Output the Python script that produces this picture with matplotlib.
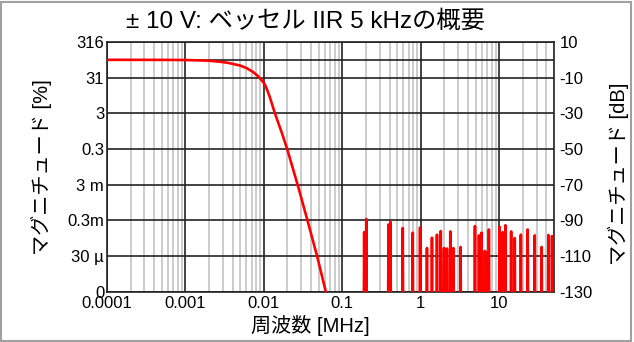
import matplotlib
matplotlib.use("Agg")
import matplotlib.pyplot as plt
from matplotlib.patches import Rectangle
from matplotlib.ticker import FixedLocator, LogLocator, NullFormatter

plt.rcParams["font.family"] = ["Liberation Sans", "Noto Sans CJK JP", "DejaVu Sans"]

# filter response (MHz, dB)
freq_mhz = [0.0001, 0.0005, 0.001, 0.002, 0.00276, 0.0035, 0.00496, 0.006, 0.00731,
            0.00835, 0.00935, 0.0103, 0.011, 0.0119, 0.0138, 0.0168, 0.0198,
            0.0273, 0.0359, 0.0476, 0.0615]
gain_db = [0.0, -0.03, -0.12, -0.5, -1.1, -1.7, -3.2, -4.6, -6.9,
           -9.0, -11.4, -13.8, -16.8, -20.9, -29.9, -40.5, -50.0,
           -71.0, -90.0, -110.0, -130.0]

# residual noise spikes (MHz, peak dB)
spike_mhz = [0.190, 0.202, 0.388, 0.411, 0.590, 0.791, 0.98, 1.20, 1.39, 1.61,
             1.80, 1.98, 2.16, 2.38, 2.60, 3.22, 4.91, 5.52, 5.96, 6.57, 6.84,
             7.39, 10.1, 11.1, 12.0, 14.2, 15.8, 18.9, 23.1, 28.4, 34.8, 42.4, 47.2]
spike_db = [-96.7, -89.3, -92.4, -90.9, -94.4, -97.0, -94.1, -105.6, -99.8, -98.1,
            -96.1, -105.6, -105.9, -96.3, -105.6, -105.0, -93.3, -98.5, -97.0, -107.2, -108.0,
            -95.2, -93.7, -96.7, -92.8, -96.3, -100.0, -98.1, -95.2, -98.5, -105.0, -98.3, -98.9]

db_ticks = [-130, -110, -90, -70, -50, -30, -10, 10]
pct_labels = ["0", "30 µ", "0.3m", "3 m", "0.3", "3", "31", "316"]
x_ticks = [0.0001, 0.001, 0.01, 0.1, 1, 10]
x_labels = ["0.0001", "0.001", "0.01", "0.1", "1", "10"]

FLOOR = -200.0
noise_x, noise_y = [], []
for f, p in zip(spike_mhz, spike_db):
    noise_x += [f * 0.975, f, f * 1.025]
    noise_y += [FLOOR, p, FLOOR]

fig = plt.figure(figsize=(6.34, 3.42), dpi=100)
ax = fig.add_axes([107 / 634, 1 - 291.5 / 342, 447 / 634, 249.5 / 342])

ax.plot(freq_mhz, gain_db, color="#ff0000", linewidth=1.9, zorder=5)
ax.plot(noise_x, noise_y, color="#ff0000", linewidth=1.9, zorder=5)

ax.set_xscale("log")
ax.set_xlim(0.0001, 50)
ax.set_ylim(-130, 10)
ax.set_xticks(x_ticks)
ax.set_xticklabels(x_labels)
ax.xaxis.set_minor_locator(LogLocator(base=10, subs=range(2, 10), numticks=20))
ax.xaxis.set_minor_formatter(NullFormatter())
ax.set_yticks(db_ticks)
ax.set_yticklabels(pct_labels)
ax.yaxis.set_minor_locator(FixedLocator([0]))

ax.xaxis.grid(True, which="minor", color="#c8c8c8", linewidth=1.3)
ax.xaxis.grid(True, which="major", color="#222222", linewidth=1.2)
ax.yaxis.grid(True, which="both", color="#222222", linewidth=1.2)
ax.set_axisbelow(True)
ax.tick_params(which="both", length=0, labelsize=12)
ax.tick_params(axis="x", pad=3.5)
ax.tick_params(axis="y", pad=2)
for s in ax.spines.values():
    s.set_color("#222222")
    s.set_linewidth(1.2)

ax2 = ax.twinx()
ax2.set_ylim(-130, 10)
ax2.set_yticks(db_ticks)
ax2.set_yticklabels([str(v) for v in db_ticks])
ax2.tick_params(length=0, labelsize=12, pad=4)
for s in ax2.spines.values():
    s.set_visible(False)

ax.set_ylabel("マグニチュード [%]", fontsize=14.5)
ax.yaxis.set_label_coords((52 - 107) / 447, 0.5)
ax2.set_ylabel("マグニチュード [dB]", fontsize=14.5)
ax2.yaxis.set_label_coords((608 - 107) / 447, 0.47)
ax.set_xlabel("周波数 [MHz]", fontsize=14.5)
ax.xaxis.set_label_coords((310 - 107) / 447, -0.095)

fig.text(305 / 634, 1 - 21 / 342, "± 10 V: ベッセル IIR 5 kHzの概要",
         fontsize=17.5, ha="center", va="center")

fig.patches.append(Rectangle((0.002, 0.004), 0.994, 0.99, transform=fig.transFigure,
                             fill=False, edgecolor="#a0a0a0", linewidth=1.5))

fig.savefig("out.png", dpi=100)
